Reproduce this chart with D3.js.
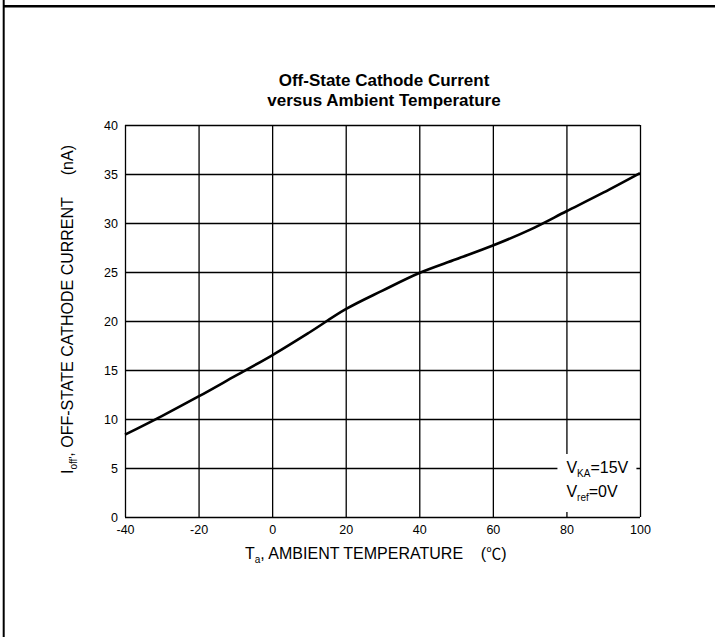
<!DOCTYPE html>
<html>
<head>
<meta charset="utf-8">
<script src="https://cdn.jsdelivr.net/npm/d3@7"></script>
<style>
  html, body { margin: 0; padding: 0; background: #fff; }
  svg { display: block; font-family: "Liberation Sans", Arial, sans-serif; }
  text { white-space: pre; }
</style>
</head>
<body>
<div id="chart"></div>
<script>
// temperature (C) vs off-state cathode current (nA)
var temps = [-40, -30, -20, -10, 0, 10, 20, 30, 40, 50, 60, 70, 80, 90, 100];
var current = [8.4, 10.3, 12.3, 14.4, 16.5, 18.8, 21.2, 23.1, 24.9, 26.3, 27.7, 29.3, 31.2, 33.1, 35.1];
var xTicks = [-40, -20, 0, 20, 40, 60, 80, 100];
var yTicks = [0, 5, 10, 15, 20, 25, 30, 35, 40];
var titleLines = ['Off-State Cathode Current', 'versus Ambient Temperature'];

var canvas = { width: 715, height: 637 };
var plot = { left: 125, top: 125, width: 515, height: 392 };

var svg = d3.select('#chart').append('svg')
  .attr('width', canvas.width)
  .attr('height', canvas.height);

// page frame (left + top rules)
svg.append('line')
  .attr('x1', 3.7).attr('x2', 3.7)
  .attr('y1', 0).attr('y2', canvas.height)
  .attr('stroke', '#000').attr('stroke-width', 2);
svg.append('line')
  .attr('x1', 3).attr('x2', canvas.width)
  .attr('y1', 6.2).attr('y2', 6.2)
  .attr('stroke', '#000').attr('stroke-width', 2.6);

var x = d3.scaleLinear().domain([-40, 100]).range([0, plot.width]);
var y = d3.scaleLinear().domain([0, 40]).range([plot.height, 0]);

var g = svg.append('g')
  .attr('transform', 'translate(' + plot.left + ',' + plot.top + ')');

// grid + tick labels
var xAxis = g.append('g')
  .attr('transform', 'translate(0,' + plot.height + ')')
  .call(d3.axisBottom(x).tickValues(xTicks).tickSize(-plot.height).tickPadding(8)
    .tickFormat(String));
var yAxis = g.append('g')
  .call(d3.axisLeft(y).tickValues(yTicks).tickSize(-plot.width).tickPadding(7)
    .tickFormat(String));

[xAxis, yAxis].forEach(function (ax) {
  ax.select('.domain').remove();
  ax.selectAll('line').attr('stroke', '#000').attr('stroke-width', 1.3);
  ax.selectAll('text')
    .attr('fill', '#000')
    .style('font-size', '12.5px')
    .style('font-family', '"Liberation Sans", Arial, sans-serif');
});

// legend box sits on top of the grid
var legend = g.append('g');
legend.append('rect')
  .attr('x', x(80) - 9).attr('y', y(5) - 14)
  .attr('width', 79).attr('height', 58)
  .attr('fill', '#fff');
var l1 = legend.append('text')
  .attr('x', x(80)).attr('y', y(5) + 5)
  .style('font-size', '16px');
l1.append('tspan').text('V');
l1.append('tspan').attr('dy', 4).style('font-size', '10px').text('KA');
l1.append('tspan').attr('dy', -4).text('=15V');
var l2 = legend.append('text')
  .attr('x', x(80)).attr('y', y(5) + 29)
  .style('font-size', '16px');
l2.append('tspan').text('V');
l2.append('tspan').attr('dy', 4).style('font-size', '10px').text('ref');
l2.append('tspan').attr('dy', -4).text('=0V');

// curve
var line = d3.line()
  .x(function (d) { return x(d[0]); })
  .y(function (d) { return y(d[1]); })
  .curve(d3.curveCatmullRom.alpha(0.5));
g.append('path')
  .datum(d3.zip(temps, current))
  .attr('d', line)
  .attr('fill', 'none')
  .attr('stroke', '#000')
  .attr('stroke-width', 2.6);

// title
var title = svg.append('text')
  .attr('text-anchor', 'middle')
  .style('font-size', '17px')
  .style('font-weight', 'bold');
titleLines.forEach(function (t, i) {
  title.append('tspan')
    .attr('x', 384)
    .attr('y', 86 + i * 20)
    .text(t);
});

// x axis label
var xl = svg.append('text')
  .attr('x', 245)
  .attr('y', 559)
  .style('font-size', '16px');
xl.append('tspan').text('T');
xl.append('tspan').attr('dy', 4).style('font-size', '10px').text('a');
xl.append('tspan').attr('dy', -4).text(', AMBIENT TEMPERATURE    (');
xl.append('tspan').style('font-family', '"Noto Sans CJK SC"').style('font-size', '15px').text('\u2103');
xl.append('tspan').text(')');

// y axis label
var yl = svg.append('text')
  .attr('transform', 'translate(73,' + 474 + ') rotate(-90)')
  .style('font-size', '16px');
yl.append('tspan').text('I');
yl.append('tspan').attr('dy', 4).style('font-size', '10px').text('off\'');
yl.append('tspan').attr('dy', -4).text(', OFF-STATE CATHODE CURRENT     (nA)');
</script>
</body>
</html>
